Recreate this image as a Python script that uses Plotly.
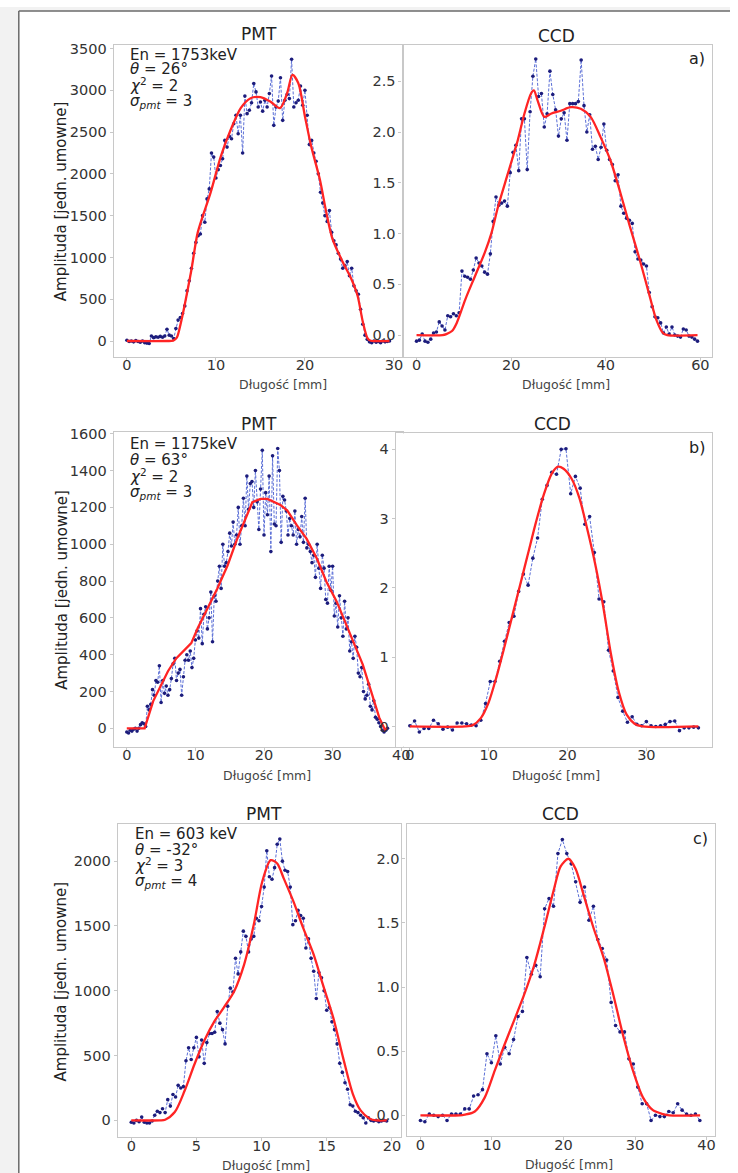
import plotly.graph_objects as go

W, H = 738, 1173
FONT = "DejaVu Sans"

# ---------------- measured profiles ----------------
# a) PMT, sampled every 0.25 mm
pmt_a_step = 0.25
pmt_a_y = [10, -5, 0, -10, 5, -5, -15, 0, -20, -25,
           -30, 60, 40, 50, 45, 55, 45, 60, 140, 70, 60, 30,
           150, 250, 280, 330, 420, 600, 720, 870, 1050, 1180,
           1260, 1280, 1500, 1420, 1700, 1820, 2250, 2200, 1950, 2050,
           2100, 2180, 2400, 2320, 2450, 2420, 2600, 2700, 2480, 2700,
           2250, 2930, 2720, 2760, 2850, 3080, 2980, 2800, 2860, 2750,
           2880, 2800, 2960, 3170, 2580, 2800, 2870, 3150, 2640, 2880,
           2950, 2900, 3370, 2800, 2850, 2880, 3050, 2820, 3000, 2700,
           2350, 2400, 2250, 2150, 2000, 1780, 1650, 1500, 1430, 1560,
           1300, 1200, 1150, 1050, 980, 870, 900, 950, 780, 870,
           660, 600, 560, 380, 200, 70, 20,
           -10, -20, 0, -15, -5, -20, 0, -10, -5, 0]
pmt_a_fit_x = [0, 4.5, 5.2, 5.6, 6.0, 7.2, 7.96, 9.4, 10.55, 11.67, 12.8, 13.9,
               15.0, 16.1, 17.2, 18.0, 18.6, 19.26, 20.0, 20.7, 21.67, 22.4,
               23.1, 24.26, 25.2, 25.9, 26.5, 27.04, 27.4, 28.0, 29.5]
pmt_a_fit_y = [0, 0, 5, 40, 190, 825, 1300, 1775, 2210, 2530, 2790, 2905,
               2917, 2865, 2786, 2965, 3183, 3084, 2687, 2330, 1934, 1538,
               1220, 943, 745, 547, 230, 32, 3, 0, 0]

# a) CCD, sampled every 0.6 mm
ccd_a_step = 0.6
ccd_a_y = [-0.06, -0.05, 0.01, -0.06, -0.07, -0.04, 0.02, 0.03, 0.13, 0.09,
           0.05, 0.19, 0.18, 0.21, 0.19, 0.22, 0.63, 0.58, 0.57, 0.55,
           0.64, 0.76, 0.71, 0.68, 0.62, 0.60, 0.80, 1.12, 1.36, 1.28,
           1.30, 1.32, 1.27, 1.60, 1.80, 1.87, 1.62, 2.13, 2.13, 1.63,
           2.20, 2.55, 2.72, 2.35, 2.38, 2.05, 2.18, 2.60, 2.37, 2.22,
           1.96, 2.13, 2.19, 1.92, 2.28, 2.28, 2.28, 2.30, 2.71, 2.26,
           2.00, 2.17, 1.83, 1.86, 1.73, 1.85, 2.08, 1.82, 1.73, 1.68,
           1.52, 1.58, 1.27, 1.20, 1.15, 1.13, 1.10, 0.82, 0.75, 0.74,
           0.70, 0.68, 0.42, 0.28, 0.18, 0.17, 0.12, 0.02, 0.08, 0.01,
           0.08, 0.00, -0.01, -0.02, 0.06, 0.05, -0.01, -0.02, -0.04, -0.06]
ccd_a_fit_x = [0, 5.5, 6.3, 7.5, 8.5, 10.3, 12.35, 14.4, 15.8, 17.2, 19.3, 21.4,
               22.8, 24.2, 24.8, 25.6, 27.0, 28.4, 30.5, 32.6, 34.7, 36.8,
               38.9, 41.0, 43.1, 45.1, 47.2, 49.3, 50.7, 52.1, 53.0, 59.4]
ccd_a_fit_y = [0, 0, 0.01, 0.04, 0.12, 0.35, 0.58, 0.81, 1.0, 1.26, 1.59, 1.92,
               2.18, 2.38, 2.41, 2.31, 2.15, 2.18, 2.21, 2.245, 2.23, 2.15,
               1.95, 1.72, 1.40, 1.07, 0.74, 0.38, 0.15, 0.02, 0, 0]

# b) PMT, sampled every 0.25 mm
pmt_b_step = 0.25
pmt_b_y = [-20, -25, -10, -15, -5, 0, -15, 0, 20, 30, 25, 10,
           120, 100, 130, 210, 180, 260, 250, 340, 140, 260, 190, 230,
           180, 210, 270, 350, 380, 260, 300, 320, 180, 280, 370, 400,
           370, 420, 330, 380, 480, 530, 490, 650, 460, 620, 660, 540,
           600, 740, 470, 720, 690, 800, 880, 760, 1000, 880, 900, 960,
           1060, 990, 1120, 1000, 1050, 1200, 1000, 1100, 1250, 1100, 1370, 1190,
           1330, 1340, 1200, 1400, 1230, 1080, 1300, 1510, 1050, 1280, 1160, 1370,
           960, 1480, 1110, 1100, 1520, 1400, 1010, 1260, 1240, 1180, 1050, 1140,
           1100, 1050, 1180, 1000, 1080, 1040, 1150, 1010, 1250, 980, 1000, 960,
           900, 940, 820, 1000, 870, 760, 940, 870, 700, 680, 880, 750,
           880, 610, 680, 550, 720, 600, 500, 690, 540, 600, 420, 470,
           380, 500, 440, 300, 280, 330, 200, 160, 180, 240, 120, 100,
           150, 60, 50, 30, 10, -10, -20, -10, 0]
pmt_b_fit_x = [0, 2.6, 3.85, 5.05, 6.0, 7.2, 8.4, 9.4, 10.35, 11.8, 13.2, 14.7,
               16.1, 17.3, 18.3, 19.5, 20.5, 22.4, 23.4, 24.8, 26.2, 27.7,
               29.1, 30.6, 32.0, 33.2, 34.4, 35.6, 36.8, 37.6, 38.0]
pmt_b_fit_y = [0, 0, 148, 238, 310, 380, 427, 463, 545, 650, 760, 886,
               1030, 1138, 1228, 1246, 1246, 1213, 1183, 1102, 1030, 922,
               796, 688, 562, 454, 346, 202, 58, -5, 0]

# b) CCD, sampled every 0.6 mm
ccd_b_step = 0.6
ccd_b_y = [0.01, 0.08, -0.08, -0.03, -0.03, 0.09, 0.04, -0.04, -0.01, -0.05,
           0.05, 0.05, 0.04, 0.02, 0.01, 0.09, 0.33, 0.65, 0.65, 0.94,
           1.23, 1.50, 1.59, 1.95, 2.20, 2.04, 2.43, 2.72, 3.28, 3.48,
           3.67, 3.64, 4.00, 4.01, 3.36, 3.61, 3.44, 2.92, 3.03, 2.51,
           1.84, 1.80, 1.10, 0.80, 0.42, 0.22, 0.06, 0.14, 0.03, 0.01,
           0.07, 0.01, 0.00, 0.01, 0.03, 0.07, 0.08, -0.06, -0.02, -0.02,
           -0.01, -0.02]
ccd_b_fit_x = [0, 7, 8, 9, 10, 11, 12, 13, 14, 15, 16, 17, 18, 18.8, 19.5,
               20.5, 21.5, 22.5, 23.5, 24.5, 25.5, 26.5, 27.5, 28.5, 29.5, 36.6]
ccd_b_fit_y = [0, 0, 0.02, 0.12, 0.35, 0.72, 1.15, 1.6, 2.05, 2.5, 2.95, 3.35,
               3.65, 3.75, 3.72, 3.58, 3.3, 2.85, 2.35, 1.75, 1.05, 0.5, 0.17,
               0.04, 0, 0]

# c) PMT, sampled every 0.2 mm
pmt_c_step = 0.2
pmt_c_y = [-15, -20, 0, -10, 25, -15, -20, -20, -5, 40,
           70, 60, 90, 60, 160, 110, 200, 180, 270, 250,
           260, 460, 560, 470, 560, 640, 490, 620, 440, 600,
           670, 670, 680, 840, 750, 700, 590, 880, 1020, 990,
           1250, 1130, 1300, 1460, 1420, 1300, 1400, 1420, 1560, 1540,
           1650, 1800, 2080, 1880, 1860, 1950, 2130, 2170, 2000, 1930,
           1920, 1800, 1510, 1540, 1620, 1580, 1560, 1330, 1400, 1250,
           1150, 940, 1140, 1100, 1000, 850, 870, 760, 700, 590,
           440, 370, 290, 240, 120, 110, 70, 60, 40, 20,
           -20, 20, 0, -5, 0, -10, -5, 0, -5]
pmt_c_fit_x = [0, 2.2, 2.6, 3.34, 4.1, 4.86, 5.6, 6.4, 7.1, 7.9, 8.66, 9.4,
               10.05, 10.7, 11.2, 11.7, 12.45, 13.2, 14.0, 14.7, 15.5, 16.25,
               17.0, 17.6, 18.3, 18.8, 19.6]
pmt_c_fit_y = [0, 0, 5, 64, 230, 435, 614, 767, 870, 997, 1202, 1509,
               1841, 2008, 1982, 1867, 1688, 1483, 1279, 1049, 793, 486,
               205, 77, 13, 0, 0]

# c) CCD, sampled every 0.62 mm
ccd_c_step = 0.62
ccd_c_y = [-0.04, -0.05, 0.01, 0.00, -0.01, 0.00, -0.04, 0.01, 0.01, 0.01,
           0.05, 0.05, 0.15, 0.16, 0.20, 0.48, 0.41, 0.62, 0.40, 0.53,
           0.48, 0.59, 0.77, 0.81, 1.23, 1.10, 1.17, 1.08, 1.61, 1.69,
           1.63, 2.04, 2.15, 2.04, 1.96, 1.82, 1.66, 1.78, 1.52, 1.63,
           1.37, 1.30, 1.21, 0.88, 0.70, 0.65, 0.65, 0.44, 0.40, 0.22,
           0.09, 0.09, -0.04, 0.00, -0.01, -0.01, 0.03, 0.02, 0.09, 0.04,
           0.01, 0.00, 0.01, -0.04]
ccd_c_fit_x = [0, 5.5, 6.2, 7.6, 9.0, 10.4, 11.75, 13.1, 14.5, 15.9, 17.3, 18.7,
               19.6, 20.7, 21.7, 22.8, 24.2, 25.6, 26.96, 28.3, 29.7, 31.1,
               32.5, 33.9, 34.8, 39.1]
ccd_c_fit_y = [0, 0, 0.005, 0.03, 0.14, 0.35, 0.55, 0.74, 0.94, 1.17, 1.46, 1.77,
               1.94, 2.0, 1.92, 1.72, 1.46, 1.23, 0.94, 0.63, 0.35, 0.14,
               0.04, 0.01, 0, 0]

# run parameters printed in the PMT panels
labels_a = ["En = 1753keV", "<i>θ</i> = 26°", "<i>χ</i><sup>2</sup> = 2", "<i>σ<sub>pmt</sub></i> = 3"]
labels_b = ["En = 1175keV", "<i>θ</i> = 63°", "<i>χ</i><sup>2</sup> = 2", "<i>σ<sub>pmt</sub></i> = 3"]
labels_c = ["En = 603 keV", "<i>θ</i> = -32°", "<i>χ</i><sup>2</sup> = 3", "<i>σ<sub>pmt</sub></i> = 4"]


def grid(step, values):
    return [round(i * step, 3) for i in range(len(values))]


# panel geometry in pixels: (left, right, top, bottom)
panels = [
    dict(x=grid(pmt_a_step, pmt_a_y), y=pmt_a_y, fx=pmt_a_fit_x, fy=pmt_a_fit_y, shape="spline",
         box=(115, 407, 38, 352), xr=[-1.48, 30.97], yr=[-190, 3544],
         xt=[0, 10, 20, 30], yt=[0, 500, 1000, 1500, 2000, 2500, 3000, 3500], fmt=""),
    dict(x=grid(ccd_a_step, ccd_a_y), y=ccd_a_y, fx=ccd_a_fit_x, fy=ccd_a_fit_y, shape="spline",
         box=(407, 720, 38, 352), xr=[-2.95, 62.5], yr=[-0.215, 2.86],
         xt=[0, 20, 40, 60], yt=[0, 0.5, 1.0, 1.5, 2.0, 2.5], fmt=".1f"),
    dict(x=grid(pmt_b_step, pmt_b_y), y=pmt_b_y, fx=pmt_b_fit_x, fy=pmt_b_fit_y, shape="linear",
         box=(115, 407, 428, 744), xr=[-1.9, 40.2], yr=[-99, 1607],
         xt=[0, 10, 20, 30, 40], yt=[0, 200, 400, 600, 800, 1000, 1200, 1400, 1600], fmt=""),
    dict(x=grid(ccd_b_step, ccd_b_y), y=ccd_b_y, fx=ccd_b_fit_x, fy=ccd_b_fit_y, shape="spline",
         box=(400, 720, 429, 744), xr=[-1.8, 38.35], yr=[-0.29, 4.23],
         xt=[0, 10, 20, 30], yt=[0, 1, 2, 3, 4], fmt=""),
    dict(x=grid(pmt_c_step, pmt_c_y), y=pmt_c_y, fx=pmt_c_fit_x, fy=pmt_c_fit_y, shape="spline",
         box=(119, 405, 822, 1137), xr=[-1.04, 20.67], yr=[-130, 2286],
         xt=[0, 5, 10, 15, 20], yt=[0, 500, 1000, 1500, 2000], fmt=""),
    dict(x=grid(ccd_c_step, ccd_c_y), y=ccd_c_y, fx=ccd_c_fit_x, fy=ccd_c_fit_y, shape="spline",
         box=(411, 723, 822, 1136), xr=[-1.94, 41.2], yr=[-0.163, 2.27],
         xt=[0, 10, 20, 30, 40], yt=[0, 0.5, 1.0, 1.5, 2.0], fmt=".1f"),
]


def px(v):
    return v / W


def py(v):
    return 1 - v / H


fig = go.Figure()
layout = dict(
    width=W, height=H, margin=dict(l=0, r=0, t=0, b=0),
    paper_bgcolor="white", plot_bgcolor="white", showlegend=False,
    font=dict(family=FONT, color="#333333"),
)

axis_common = dict(
    showline=True, mirror=True, linecolor="#c8c8c8", linewidth=1.2,
    ticks="outside", ticklen=3, tickcolor="#c8c8c8", tickwidth=1,
    showgrid=False, zeroline=False,
    tickfont=dict(family=FONT, size=14.5, color="#333333"),
)

for k, p in enumerate(panels, start=1):
    sfx = "" if k == 1 else str(k)
    l, r, t, b = p["box"]
    layout["xaxis" + sfx] = dict(axis_common, domain=[px(l), px(r)], range=p["xr"],
                                 tickvals=p["xt"], anchor="y" + sfx, ticklabelstandoff=-8)
    layout["yaxis" + sfx] = dict(axis_common, domain=[py(b), py(t)], range=p["yr"],
                                 tickvals=p["yt"], tickformat=p["fmt"], anchor="x" + sfx)
    fig.add_trace(go.Scatter(
        x=p["x"], y=p["y"], mode="lines+markers", xaxis="x" + sfx, yaxis="y" + sfx,
        line=dict(color="#5b6fd6", width=1, dash="3px,1.6px"),
        marker=dict(color="#1c1c7c", size=3.6),
        hoverinfo="skip",
    ))
    fig.add_trace(go.Scatter(
        x=p["fx"], y=p["fy"], mode="lines", xaxis="x" + sfx, yaxis="y" + sfx,
        line=dict(color="#ff2424", width=2.3, shape=p["shape"], smoothing=0.8),
        hoverinfo="skip",
    ))

ann = []


def text(x, y, s, size, anchor="center", color="#222222", angle=0, yanchor="middle"):
    ann.append(dict(x=px(x), y=py(y), xref="paper", yref="paper", text=s, showarrow=False,
                    xanchor=anchor, yanchor=yanchor, textangle=angle,
                    font=dict(family=FONT, size=size, color=color)))


# panel titles
for (xc, yc, s) in [(262, 27.5, "PMT"), (563, 29, "CCD"),
                    (262, 420, "PMT"), (559, 420, "CCD"),
                    (267, 812, "PMT"), (567, 812, "CCD")]:
    text(xc, yc, s, 17)

# axis titles
for (xc, yc) in [(286, 380), (572, 380), (269.5, 773), (562, 773), (269, 1165), (575, 1164)]:
    text(xc, yc, "Długość [mm]", 12.5, color="#444444")
for yc in [195, 586, 980]:
    text(62, yc, "Amplituda [jedn. umowne]", 15, angle=-90)

# panel letters
text(715, 52, "a)", 16, anchor="right")
text(715, 443, "b)", 16, anchor="right")
text(718, 836, "c)", 16, anchor="right")

# run parameters
for (x0, ys, lines) in [(129, [48, 62.5, 78, 95], labels_a),
                        (129, [440, 456, 472, 488], labels_b),
                        (134, [832, 848, 863, 880], labels_c)]:
    for yy, s in zip(ys, lines):
        text(x0, yy, s, 15, anchor="left")

layout["annotations"] = ann

# page frame
layout["shapes"] = [
    dict(type="rect", xref="paper", yref="paper", x0=0, x1=px(19), y0=0, y1=1,
         fillcolor="#f2f2f2", line=dict(width=0), layer="below"),
    dict(type="rect", xref="paper", yref="paper", x0=0, x1=1, y0=py(4), y1=1,
         fillcolor="#f2f2f2", line=dict(width=0), layer="below"),
    dict(type="line", xref="paper", yref="paper", x0=px(19), x1=px(19), y0=0, y1=py(4),
         line=dict(color="#6a6a6a", width=1.5)),
    dict(type="line", xref="paper", yref="paper", x0=px(19), x1=1, y0=py(4), y1=py(4),
         line=dict(color="#6a6a6a", width=1.5)),
]

fig.update_layout(**layout)
fig.write_html("out.html")
